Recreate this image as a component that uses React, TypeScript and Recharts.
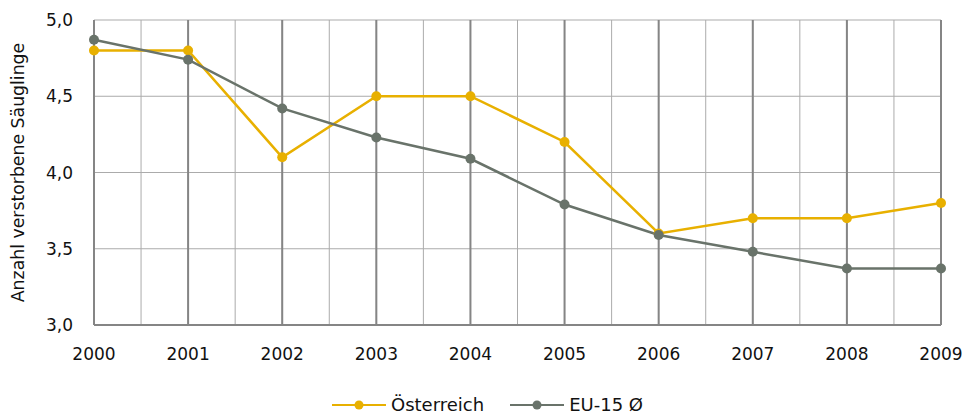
import React from "react";
import {
  LineChart,
  Line,
  XAxis,
  YAxis,
  CartesianGrid,
  ReferenceLine,
  Legend,
} from "recharts";

const YEARS = [2000, 2001, 2002, 2003, 2004, 2005, 2006, 2007, 2008, 2009];
const AUSTRIA = [4.8, 4.8, 4.1, 4.5, 4.5, 4.2, 3.6, 3.7, 3.7, 3.8];
const EU15 = [4.87, 4.74, 4.42, 4.23, 4.09, 3.79, 3.59, 3.48, 3.37, 3.37];
const Y_TICKS = [3.0, 3.5, 4.0, 4.5, 5.0];
const HALF_YEAR_TICKS = [
  2000, 2000.5, 2001, 2001.5, 2002, 2002.5, 2003, 2003.5, 2004, 2004.5,
  2005, 2005.5, 2006, 2006.5, 2007, 2007.5, 2008, 2008.5, 2009,
];

const YELLOW = "#e8b000";
const GREY = "#69736a";
const FONT = "'DejaVu Sans', sans-serif";

const data = YEARS.map((year, i) => ({
  year,
  austria: AUSTRIA[i],
  eu: EU15[i],
}));

const legendItems = [
  { label: "Österreich", color: YELLOW },
  { label: "EU-15 Ø", color: GREY },
];

function LegendContent() {
  return (
    <div
      style={{
        display: "flex",
        justifyContent: "center",
        gap: 26,
        fontFamily: FONT,
        fontSize: 18,
        color: "#111",
        paddingTop: 29,
        marginLeft: 34,
      }}
    >
      {legendItems.map((item) => (
        <div key={item.label} style={{ display: "flex", alignItems: "center" }}>
          <svg width={54} height={12} style={{ marginRight: 5 }}>
            <line x1={0} y1={6} x2={54} y2={6} stroke={item.color} strokeWidth={2} />
            <circle cx={27} cy={6} r={4.5} fill={item.color} />
          </svg>
          <span>{item.label}</span>
        </div>
      ))}
    </div>
  );
}

function YLabel({ viewBox }: any) {
  const cx = 18;
  const cy = viewBox.y + viewBox.height / 2;
  return (
    <text
      x={cx}
      y={cy}
      transform={`rotate(-90, ${cx}, ${cy})`}
      textAnchor="middle"
      dominantBaseline="central"
      fontFamily={FONT}
      fontSize={17.3}
      fill="#111"
    >
      Anzahl verstorbene Säuglinge
    </text>
  );
}

export default function App() {
  return (
    <div style={{ position: "absolute", left: 0, top: 0, background: "#fff" }}>
      <LineChart
        width={971}
        height={416}
        data={data}
        margin={{ top: 20, right: 30, bottom: 0, left: 0 }}
      >
        <CartesianGrid stroke="#ababab" strokeWidth={1} />
        {YEARS.map((y) => (
          <ReferenceLine key={y} x={y} stroke="#858585" strokeWidth={2} />
        ))}
        <ReferenceLine y={3} stroke="#858585" strokeWidth={2} />
        <XAxis
          type="number"
          dataKey="year"
          domain={[2000, 2009]}
          ticks={HALF_YEAR_TICKS}
          interval={0}
          tickFormatter={(v: number) => (Number.isInteger(v) ? String(v) : "")}
          axisLine={false}
          tickLine={false}
          tickSize={6}
          tickMargin={17}
          height={40}
          tick={{ fontFamily: FONT, fontSize: 17, fill: "#111" }}
        />
        <YAxis
          type="number"
          domain={[3, 5]}
          ticks={Y_TICKS}
          interval={0}
          tickFormatter={(v: number) => v.toFixed(1).replace(".", ",")}
          axisLine={{ stroke: "#858585", strokeWidth: 2 }}
          tickLine={false}
          tickSize={6}
          tickMargin={15}
          width={94}
          tick={{ fontFamily: FONT, fontSize: 17, fill: "#111" }}
          label={<YLabel />}
        />
        <Legend verticalAlign="bottom" height={51} content={<LegendContent />} />
        <Line
          type="linear"
          dataKey="austria"
          stroke={YELLOW}
          strokeWidth={2.5}
          dot={{ r: 5, fill: YELLOW, stroke: "none" }}
          activeDot={false}
          isAnimationActive={false}
        />
        <Line
          type="linear"
          dataKey="eu"
          stroke={GREY}
          strokeWidth={2.5}
          dot={{ r: 5, fill: GREY, stroke: "none" }}
          activeDot={false}
          isAnimationActive={false}
        />
      </LineChart>
    </div>
  );
}
